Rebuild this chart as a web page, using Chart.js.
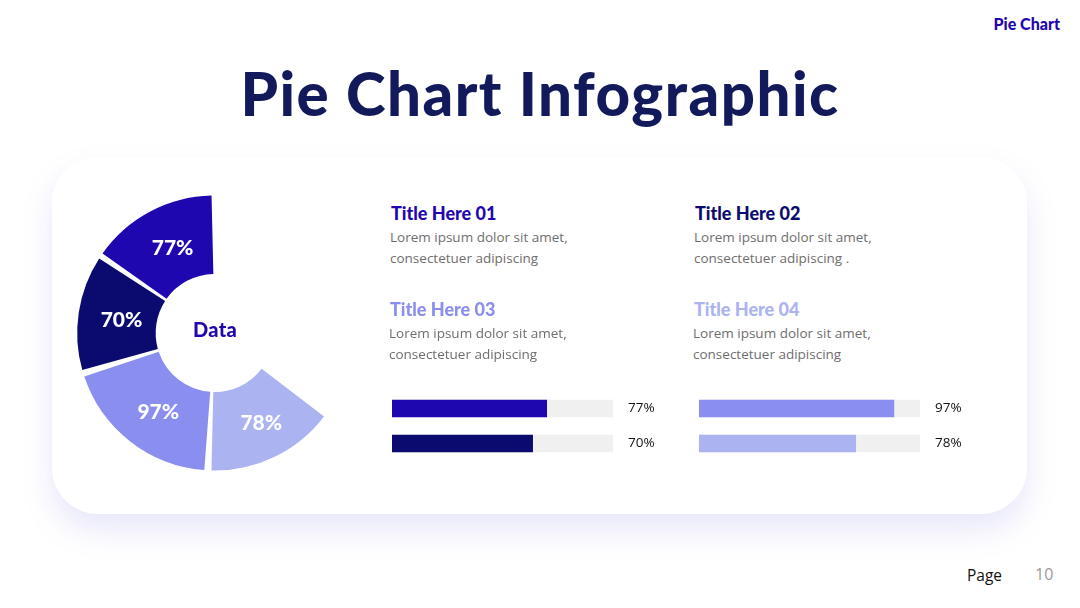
<!DOCTYPE html>
<html>
<head>
<meta charset="utf-8">
<script src="https://cdn.jsdelivr.net/npm/chart.js@4.4.1/dist/chart.umd.min.js"></script>
<style>
  html,body{margin:0;padding:0;background:#fff;}
  #page{position:relative;width:1080px;height:608px;overflow:hidden;background:#fff;font-family:"Open Sans",sans-serif;}
  .abs{position:absolute;white-space:nowrap;}
  #brand{right:20px;top:14px;font:900 16px "Lato",sans-serif;color:#1F07B0;}
  #title{left:0;width:1080px;top:63px;text-align:center;font:900 60px/1 "Lato",sans-serif;color:#131A5C;letter-spacing:1.5px;}
  #card{left:52px;top:157px;width:975px;height:357px;border-radius:46px;background:#fff;box-shadow:0 16px 30px rgba(130,120,230,0.18);}
  .ttl{font:900 18px/1 "Lato",sans-serif;}
  .desc{font:400 13.5px/21px "Open Sans",sans-serif;color:#6E6E6E;}
  #dataLbl{left:193px;top:319px;font:900 20px/1 "Lato",sans-serif;color:#1F07B0;letter-spacing:0.3px;}
  #pageLbl{left:967px;top:568px;font:400 15.5px/1 "Open Sans",sans-serif;color:#111;}
  #pageNum{left:1035px;top:566px;font:400 16px/1 "Open Sans",sans-serif;color:#9A9A9A;}
  canvas{position:absolute;}
</style>
</head>
<body>
<div id="page">
  <div id="brand" class="abs">Pie Chart</div>
  <div id="title" class="abs">Pie Chart Infographic</div>
  <div id="card" class="abs"></div>
  <canvas id="pie" width="300" height="300" style="left:52px;top:183px;"></canvas>
  <div id="dataLbl" class="abs">Data</div>
  <canvas id="barsL" width="300" height="70" style="left:392px;top:391px;"></canvas>
  <canvas id="barsR" width="300" height="70" style="left:699px;top:391px;"></canvas>
  <div id="pageLbl" class="abs">Page</div>
  <div id="pageNum" class="abs">10</div>
</div>
<script>
// chart values
const categories = ['Title Here 01', 'Title Here 02', 'Title Here 03', 'Title Here 04'];
const descriptions = [
  ['Lorem ipsum dolor sit amet,', 'consectetuer adipiscing'],
  ['Lorem ipsum dolor sit amet,', 'consectetuer adipiscing .'],
  ['Lorem ipsum dolor sit amet,', 'consectetuer adipiscing'],
  ['Lorem ipsum dolor sit amet,', 'consectetuer adipiscing']
];
const values = [77, 70, 97, 78];
const valueLabels = ['77%', '70%', '97%', '78%'];
const colors = ['#1F07B0', '#0B0A6E', '#8A8EEE', '#ABB3F0'];
const barMax = 110;

// text blocks (2x2 grid)
const blockPos = [[391, 204], [695, 204], [390, 300], [694, 300]];
categories.forEach((c, i)=>{
  const t = document.createElement('div');
  t.className = 'abs ttl';
  t.textContent = c;
  t.style.left = blockPos[i][0] + 'px';
  t.style.top = blockPos[i][1] + 'px';
  t.style.color = colors[i];
  document.getElementById('page').appendChild(t);
  const d = document.createElement('div');
  d.className = 'abs desc';
  d.innerHTML = descriptions[i].join('<br>');
  d.style.left = (blockPos[i][0] - 1) + 'px';
  d.style.top = (blockPos[i][1] + 23) + 'px';
  document.getElementById('page').appendChild(d);
});

// labels inside the slices
const sliceLabels = {
  id: 'sliceLabels',
  afterDatasetsDraw(chart){
    const ctx = chart.ctx;
    const meta = chart.getDatasetMeta(0);
    ctx.save();
    ctx.fillStyle = '#fff';
    ctx.font = '900 21px Lato';
    ctx.textAlign = 'center';
    ctx.textBaseline = 'middle';
    meta.data.forEach((arc, i)=>{
      const p = arc.getCenterPoint();
      ctx.fillText(chart.data.labels[i], p.x + 4, p.y + 2);
    });
    ctx.restore();
  }
};

// clockwise order on the ring is 78, 97, 70, 77
const ringVals = values.slice().reverse();
new Chart(document.getElementById('pie'), {
  type: 'doughnut',
  data: {
    labels: valueLabels.slice().reverse(),
    datasets: [{data: ringVals, backgroundColor: colors.slice().reverse(), borderWidth: 0, spacing: 9}]
  },
  options: {
    responsive: false, animation: false,
    rotation: 126, circumference: 234, cutout: '41%', radius: 133,
    plugins: {legend: {display: false}, tooltip: {enabled: false}}
  },
  plugins: [sliceLabels]
});

// percent text right of each track
const barLabels = {
  id: 'barLabels',
  afterDatasetsDraw(chart, args, opts){
    const ctx = chart.ctx;
    const meta = chart.getDatasetMeta(0);
    const texts = opts.texts || [];
    ctx.save();
    ctx.fillStyle = '#111';
    ctx.font = '400 13.5px "Open Sans"';
    ctx.textBaseline = 'middle';
    meta.data.forEach((bar, i)=>{
      if(texts[i]) ctx.fillText(texts[i], chart.chartArea.right + 15, bar.y);
    });
    ctx.restore();
  }
};

function makeBars(id, idx){
  return new Chart(document.getElementById(id), {
    type: 'bar',
    data: {
      labels: idx.map(i=>categories[i]),
      datasets: [
        {data: idx.map(i=>values[i]), backgroundColor: idx.map(i=>colors[i]), barThickness: 17, grouped: false, order: 0},
        {data: idx.map(()=>barMax), backgroundColor: '#F0F0F0', barThickness: 17, grouped: false, order: 1}
      ]
    },
    options: {
      indexAxis: 'y', responsive: false, animation: false,
      layout: {padding: {left: 0, right: 79, top: 0, bottom: 0}},
      scales: {
        x: {display: false, min: 0, max: barMax},
        y: {display: false}
      },
      plugins: {legend: {display: false}, tooltip: {enabled: false}, barLabels: {texts: idx.map(i=>valueLabels[i])}}
    },
    plugins: [barLabels]
  });
}
makeBars('barsL', [0, 1]);
makeBars('barsR', [2, 3]);
</script>
</body>
</html>
